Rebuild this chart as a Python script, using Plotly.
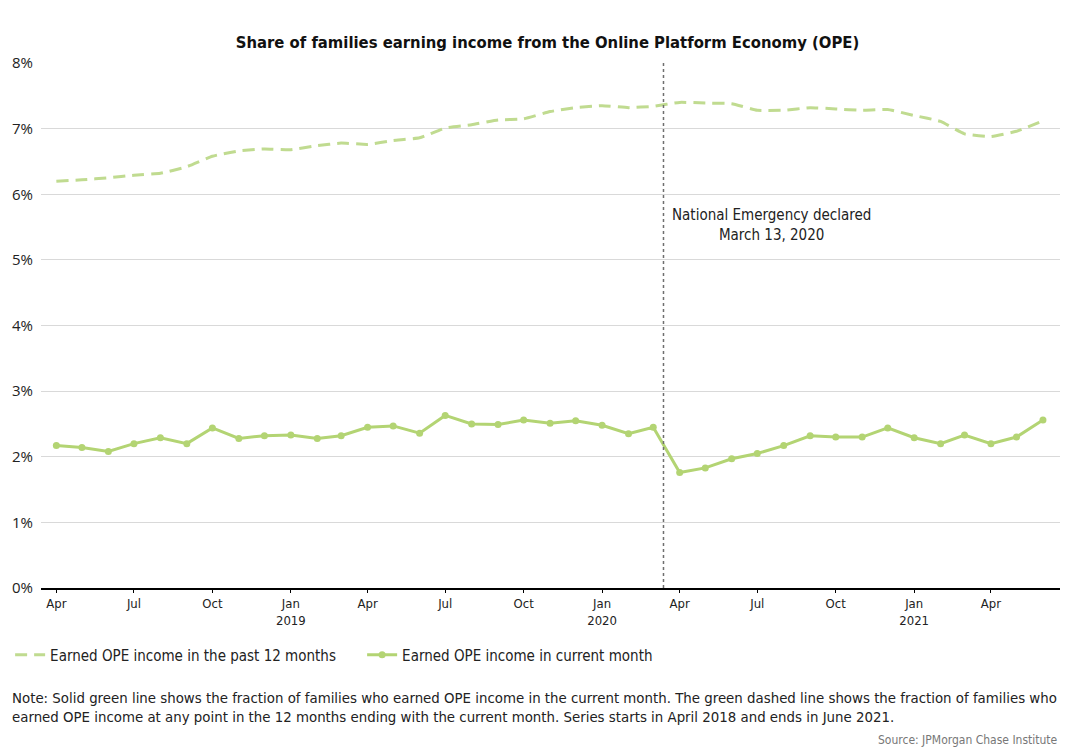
import plotly.graph_objects as go
import pandas as pd

months = pd.date_range("2018-04-01", "2021-06-01", freq="MS")

past_12_months = [6.20, 6.22, 6.25, 6.29, 6.32, 6.42, 6.58, 6.66, 6.69, 6.68, 6.74, 6.78,
                  6.76, 6.82, 6.86, 7.01, 7.06, 7.13, 7.15, 7.26, 7.32, 7.35, 7.32, 7.34,
                  7.40, 7.39, 7.38, 7.28, 7.28, 7.32, 7.30, 7.28, 7.29, 7.20, 7.11, 6.92,
                  6.88, 6.96, 7.12]
current_month = [2.17, 2.14, 2.08, 2.20, 2.29, 2.20, 2.44, 2.28, 2.32, 2.33, 2.28, 2.32,
                 2.45, 2.47, 2.36, 2.63, 2.50, 2.49, 2.56, 2.51, 2.55, 2.48, 2.35, 2.45,
                 1.76, 1.83, 1.97, 2.05, 2.17, 2.32, 2.30, 2.30, 2.44, 2.29, 2.20, 2.33,
                 2.20, 2.30, 2.56]

tick_dates = pd.date_range("2018-04-01", "2021-04-01", freq="3MS")
tick_labels = ["Apr", "Jul", "Oct", "Jan<br>2019", "Apr", "Jul", "Oct", "Jan<br>2020",
               "Apr", "Jul", "Oct", "Jan<br>2021", "Apr"]
y_ticks = [0, 1, 2, 3, 4, 5, 6, 7, 8]
y_labels = ["0%", "1%", "2%", "3%", "4%", "5%", "6%", "7%", "8%"]

emergency_date = "2020-03-13"
green_solid = "#b3d473"
green_dash = "#c0db90"
cfont = "Liberation Sans Narrow, DejaVu Sans Condensed, Arial Narrow, sans-serif"

fig = go.Figure()
fig.add_trace(go.Scatter(
    x=months, y=past_12_months, mode="lines",
    name="Earned OPE income in the past 12 months",
    line=dict(color=green_dash, width=3, dash="12px,7px", shape="spline", smoothing=0.4),
))
fig.add_trace(go.Scatter(
    x=months, y=current_month, mode="lines+markers",
    name="Earned OPE income in current month",
    line=dict(color=green_solid, width=3),
    marker=dict(color=green_solid, size=7),
))

fig.add_shape(type="line", xref="x", yref="paper", x0=emergency_date, x1=emergency_date,
              y0=0, y1=1, line=dict(color="#6f6f6f", width=1.5, dash="dot"))
fig.add_annotation(x="2020-07-18", y=5.53, xref="x", yref="y",
                   text="National Emergency declared<br>March 13, 2020",
                   showarrow=False, font=dict(size=15, color="#222", family=cfont),
                   align="center")

fig.add_annotation(x=(6 - 37) / 1023, y=-(707.5 - 588) / 525, xref="paper", yref="paper",
                   xanchor="left", yanchor="middle",
                   text=("Note: Solid green line shows the fraction of families who earned OPE income in the current month. "
                         "The green dashed line shows the fraction of families who<br>earned OPE income at any point in the "
                         "12 months ending with the current month. Series starts in April 2018 and ends in June 2021."),
                   showarrow=False, align="left", font=dict(size=14.85, color="#222", family=cfont))
fig.add_annotation(x=1, y=-(740 - 588) / 525, xref="paper", yref="paper",
                   xanchor="right", yanchor="middle",
                   text="Source: JPMorgan Chase Institute", showarrow=False,
                   font=dict(size=12, color="#777", family=cfont))

fig.update_layout(
    width=1070, height=749,
    margin=dict(l=37, r=10, t=63, b=161),
    plot_bgcolor="white", paper_bgcolor="white",
    title=dict(text="<b>Share of families earning income from the Online Platform Economy (OPE)</b>",
               x=547.5 / 1070, xanchor="center", y=1 - 42 / 749, yanchor="middle",
               font=dict(size=16.5, color="#111", family=cfont)),
    font=dict(family=cfont, color="#222"),
    showlegend=True,
    legend=dict(orientation="h", x=-31 / 1023, y=-(655 - 588) / 525, xanchor="left",
                yanchor="middle", entrywidth=307, entrywidthmode="pixels",
                font=dict(size=15, color="#222", family=cfont), itemwidth=30,
                bgcolor="rgba(0,0,0,0)"),
    xaxis=dict(type="date", range=["2018-03-14", "2021-06-21"],
               tickmode="array", tickvals=tick_dates, ticktext=tick_labels,
               showgrid=False, showline=True, linecolor="#000", linewidth=1.5,
               ticks="outside", ticklen=3, tickcolor="#000",
               tickfont=dict(size=13, color="#222", family=cfont)),
    yaxis=dict(range=[0, 8], tickmode="array", tickvals=y_ticks, ticktext=y_labels,
               showgrid=True, gridcolor="#d9d9d9", gridwidth=1, zeroline=False,
               showline=False, ticks="", ticklabelstandoff=7,
               tickfont=dict(size=15, color="#222", family="Open Sans, DejaVu Sans, sans-serif")),
)

fig.write_html("out.html", config={"displayModeBar": False},
               post_script="document.body.style.margin='0px';")
